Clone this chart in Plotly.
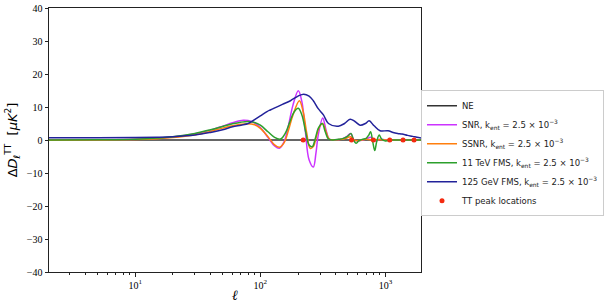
import plotly.graph_objects as go
import math

# ---------------- data ----------------
ell_ne = [2, 1950]
ne_vals = [0.0, 0.0]

ell_snr = [2, 5, 10, 15, 20, 30, 40, 50, 60, 73, 85, 100, 115, 130, 142, 155, 168, 182,
           201, 215, 229, 245, 265, 278, 290, 315, 335, 355, 400, 450, 490, 525, 560,
           600, 700, 760, 820, 900, 1000, 1200, 1500, 1950]
snr_vals = [0.0, 0.05, 0.2, 0.5, 0.9, 1.9, 3.0, 4.2, 5.2, 6.0, 5.6, 3.8, 0.8, -1.8, -2.5,
            -0.5, 4.5, 10.5, 14.9, 11.5, 2.5, -6.0, -8.2, -4.0, 1.5, 6.7, 3.0, 0.3, 0.1,
            0.3, 1.0, 2.0, 0.0, -0.3, 0.3, 0.8, -0.3, 0.2, 0.1, 0.0, 0.0, 0.0]

ell_ssnr = [2, 5, 10, 15, 20, 30, 40, 50, 60, 78, 90, 100, 115, 130, 142, 155, 168, 182,
            205, 220, 235, 250, 265, 280, 295, 315, 335, 355, 400, 450, 490, 525, 560,
            600, 700, 800, 900, 1000, 1200, 1500, 1950]
ssnr_vals = [-0.1, 0.0, 0.15, 0.4, 0.75, 1.6, 2.6, 3.6, 4.3, 4.9, 4.6, 3.5, 1.0, -1.5,
             -2.2, -0.8, 3.0, 7.5, 11.9, 8.5, 2.0, -2.5, -2.0, 1.0, 3.8, 5.0, 2.5, 0.3,
             0.1, 0.2, 0.6, 1.0, 0.0, -0.2, 0.2, 0.0, 0.1, 0.0, 0.0, 0.0, 0.0]

ell_fms11 = [2, 5, 10, 15, 20, 30, 40, 50, 60, 70, 80, 90, 100, 115, 130, 145, 158, 172,
             186, 201, 215, 230, 245, 260, 275, 290, 312, 330, 350, 380, 420, 460, 500,
             530, 555, 580, 610, 650, 700, 735, 760, 790, 820, 850, 890, 930, 1000, 1100,
             1300, 1600, 1950]
fms11_vals = [0.0, 0.05, 0.25, 0.6, 1.0, 2.0, 3.1, 4.1, 4.9, 5.4, 5.6, 5.3, 4.5, 2.5, 0.8,
              0.3, 2.0, 5.5, 8.5, 9.6, 7.5, 2.5, -1.5, -2.0, 0.5, 3.5, 5.0, 2.5, 0.3, 0.0,
              0.2, 0.5, 1.2, 2.0, 0.0, -1.0, -0.3, 0.2, 0.5, 1.5, 2.5, -0.5, -3.2, -0.5,
              1.5, 0.3, -0.3, 0.0, 0.0, 0.0, 0.0]

ell_fms125 = [2, 5, 10, 15, 20, 30, 40, 50, 60, 70, 80, 90, 100, 113, 120, 150, 174, 200,
              222, 245, 265, 290, 319, 350, 420, 470, 521, 570, 626, 690, 740, 810, 904,
              1046, 1150, 1250, 1355, 1500, 1650, 1780, 1950]
fms125_vals = [0.7, 0.7, 0.75, 0.85, 1.0, 1.5, 2.3, 3.1, 4.0, 4.5, 5.0, 6.2, 7.3, 8.6, 9.1,
               10.8, 11.9, 13.3, 13.9, 13.3, 11.9, 9.5, 7.6, 5.0, 4.2, 5.0, 6.3, 5.6, 4.5,
               5.0, 5.8, 4.3, 2.8, 2.8, 2.3, 2.0, 1.8, 1.4, 1.1, 0.8, 0.6]

ell_peaks = [220, 535, 800, 1080, 1380, 1690]
peak_vals = [0, 0, 0, 0, 0, 0]

x_ticks = [10, 100, 1000]
x_tick_labels = ["10<sup>1</sup>", "10<sup>2</sup>", "10<sup>3</sup>"]
y_ticks = [-40, -30, -20, -10, 0, 10, 20, 30, 40]

k_text = "k<sub>ent</sub> = 2.5 × 10<sup>−3</sup>"
names = ["NE",
         "SNR, " + k_text,
         "SSNR, " + k_text,
         "11 TeV FMS, " + k_text,
         "125 GeV FMS, " + k_text,
         "TT peak locations"]
colors = ["#333333", "#cc33ff", "#ff7f0e", "#2ca02c", "#22229a", "#f42a10"]

# ---------------- figure ----------------
fig = go.Figure()
series = [(ell_ne, ne_vals), (ell_snr, snr_vals), (ell_ssnr, ssnr_vals),
          (ell_fms11, fms11_vals), (ell_fms125, fms125_vals)]
for (xs, ys), nm, col in zip(series, names[:5], colors[:5]):
    fig.add_trace(go.Scatter(x=xs, y=ys, mode="lines", name=nm,
                             line=dict(color=col, width=1.5, shape="spline", smoothing=1.0)))
fig.add_trace(go.Scatter(x=ell_peaks, y=peak_vals, mode="markers", name=names[5],
                         marker=dict(color=colors[5], size=5)))

minor_vals = [m * 10 ** e for e in range(0, 4) for m in range(2, 10)]

fig.update_layout(
    width=607, height=308,
    margin=dict(l=49, r=186, t=8, b=36, autoexpand=False),
    paper_bgcolor="white", plot_bgcolor="white",
    showlegend=True,
    legend=dict(x=1.0, y=0.45, xanchor="left", yanchor="middle",
                bordercolor="#cccccc", borderwidth=1, bgcolor="white",
                font=dict(family="DejaVu Sans", size=8.5, color="#222"),
                tracegroupgap=0, itemwidth=30),
    font=dict(family="Liberation Serif", size=10, color="black"),
)
fig.update_xaxes(type="log", range=[math.log10(2.05), math.log10(1920)],
                 tickvals=x_ticks, ticktext=x_tick_labels,
                 showgrid=False, zeroline=False, automargin=False,
                 showline=True, linecolor="#222", linewidth=1, mirror=True,
                 ticks="outside", ticklen=3.5, tickcolor="#222",
                 minor=dict(tickvals=minor_vals, ticks="outside", ticklen=2, tickcolor="#222"),
                 tickfont=dict(family="Liberation Serif", size=10),
                 title=dict(text="<i>ℓ</i>", font=dict(family="Liberation Serif", size=14),
                            standoff=0))
fig.update_yaxes(range=[-40, 40], tickvals=y_ticks,
                 showgrid=False, zeroline=False, automargin=False,
                 showline=True, linecolor="#222", linewidth=1, mirror=True,
                 ticks="outside", ticklen=3.5, tickcolor="#222",
                 tickfont=dict(family="Liberation Serif", size=10),
                 title=dict(text="Δ<i>D</i><sub><i>ℓ</i></sub><sup>TT</sup>  [<i>μK</i><sup>2</sup>]",
                            font=dict(family="DejaVu Sans", size=13), standoff=6))

fig.write_html("out.html", config={"displayModeBar": False},
               post_script="document.body.style.margin='0';document.body.style.overflow='hidden';")
